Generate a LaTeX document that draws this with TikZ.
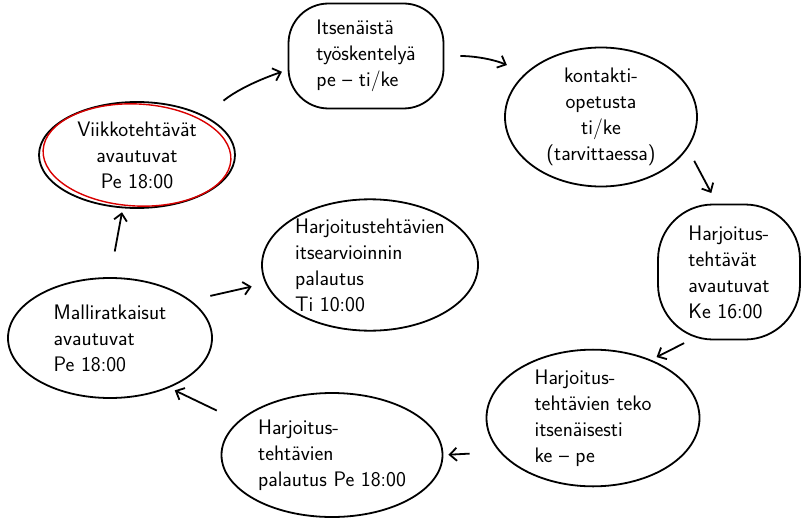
\documentclass[tikz,border=0pt]{standalone}
\usepackage{tikz}
\usetikzlibrary{arrows.meta,shapes.geometric}

\begin{document}
\begin{tikzpicture}[x=1pt,y=-1pt,->,>={Straight Barb[length=7pt,width=13pt]},
        line width=1.8pt,shorten >=6pt,shorten <=6pt,
        bubble/.style={ellipse,draw,inner sep=0pt,align=left,
          font=\sffamily\fontsize{21}{26}\selectfont},
        blob/.style={bubble,rectangle,rounded corners=40pt}]

  \useasboundingbox (0,0) rectangle (802,524);

  \node[bubble,align=center,minimum width=196pt,minimum height=106pt] (1) at (137,155)
    {Viikkotehtävät\\avautuvat\\Pe 18:00};
  \node[blob,minimum width=155pt,minimum height=105pt] (2) at (366,56)
    {Itsenäistä\\työskentelyä\\pe -- ti/ke};
  \node[bubble,align=center,minimum width=192pt,minimum height=139pt] (3) at (601,117)
    {kontakti-\\opetusta\\ti/ke\\(tarvittaessa)};
  \node[blob,rounded corners=55pt,minimum width=142pt,minimum height=135pt] (4) at (729,272)
    {Harjoitus-\\tehtävät\\avautuvat\\Ke 16:00};
  \node[bubble,minimum width=213pt,minimum height=120pt] (5) at (593,418)
    {Harjoitus-\\tehtävien teko\\itsenäisesti\\ke -- pe};
  \node[bubble,minimum width=221pt,minimum height=124pt] (6) at (332,455)
    {Harjoitus-\\tehtävien\\palautus Pe 18:00};
  \node[bubble,minimum width=204pt,minimum height=120pt] (7) at (110,338)
    {Malliratkaisut\\avautuvat\\Pe 18:00};
  \node[bubble,minimum width=216pt,minimum height=130pt] (8) at (370,265)
    {Harjoitustehtävien\\itsearvioinnin\\palautus\\Ti 10:00};

  % red ring round the start
  \draw[-,red!85!black,line width=1.4pt] (1.center) ellipse [x radius=94, y radius=51, rotate=-3];

  \path (1.30)   edge [bend left=10,shorten <=24pt] (2.190)
        (2.east) edge [bend left=12,shorten <=16pt,shorten >=20pt] (3.150)
        (3.-20)  edge [shorten <=14pt,shorten >=12pt] (4.100)
        (4.-120) edge (5.45)
        (5.200)  edge [shorten <=30pt,shorten >=5pt] (6.east)
        (6.160)  edge [shorten <=24pt] (7.-40)
        (7.north) edge [shorten <=26pt,shorten >=4pt] (1.-105)
        (7.25)   edge [shorten <=20pt,shorten >=14pt] (8.190);

\end{tikzpicture}
\end{document}
